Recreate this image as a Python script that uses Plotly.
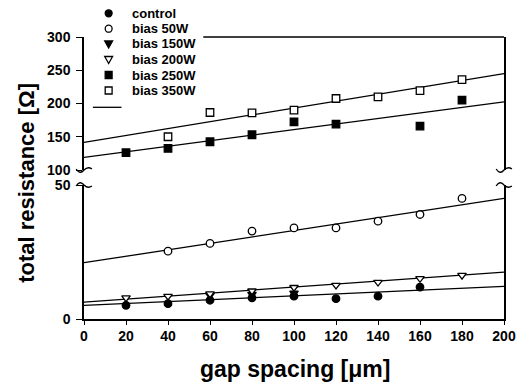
import plotly.graph_objects as go

# ---------------- data ----------------
control_x = [20, 40, 60, 80, 100, 120, 140, 160]
control_y = [5.1, 5.7, 7.0, 7.9, 8.5, 7.6, 8.5, 11.9]

b50_x = [40, 60, 80, 100, 120, 140, 160, 180]
b50_y = [25.3, 28.2, 32.8, 34.0, 34.0, 36.5, 39.0, 45.0]

b150_x = [60, 80, 100]
b150_y = [8.9, 9.2, 9.7]

b200_x = [20, 40, 60, 80, 100, 120, 140, 160, 180]
b200_y = [7.9, 8.5, 9.4, 10.5, 11.8, 12.6, 13.7, 15.1, 16.3]

b250_x = [20, 40, 60, 80, 100, 120, 160, 180]
b250_y = [126, 132.5, 142.5, 153, 172.5, 169, 166, 205]

b350_x = [40, 60, 80, 100, 120, 140, 160, 180]
b350_y = [150, 186.5, 186, 190, 207.5, 210, 219.5, 236]

fit_x = [0, 200]
fit_control = [5.05, 12.2]
fit_200 = [6.3, 17.5]
fit_50 = [21.0, 45.0]
fit_250 = [119, 202.5]
fit_350 = [141.5, 245]

x_ticks = [0, 20, 40, 60, 80, 100, 120, 140, 160, 180, 200]
upper_ticks = [100, 150, 200, 250, 300]
lower_ticks = [0, 50]

# ---------------- layout geometry ----------------
W, H = 528, 387
ML, MR, MT, MB = 84, 18, 37, 68
PW, PH = W - ML - MR, H - MT - MB
FONT = "Liberation Sans"

def paper(px, py):
    return (px - ML) / PW, (H - MB - py) / PH

upper_dom = [paper(0, 170)[1], 1.0]
lower_dom = [0.0, paper(0, 185)[1]]

fig = go.Figure()

def mk(symbol, filled):
    return dict(symbol=symbol, size=7.5,
                color="black" if filled else "white",
                line=dict(color="black", width=1.3))

series = [
    ("control", control_x, control_y, "circle", True, "y"),
    ("bias 50W", b50_x, b50_y, "circle", False, "y"),
    ("bias 150W", b150_x, b150_y, "triangle-down", True, "y"),
    ("bias 200W", b200_x, b200_y, "triangle-down", False, "y"),
    ("bias 250W", b250_x, b250_y, "square", True, "y2"),
    ("bias 350W", b350_x, b350_y, "square", False, "y2"),
]

# fit lines first (under markers)
fits = [(fit_control, "y"), (fit_200, "y"), (fit_50, "y"),
        (fit_250, "y2"), (fit_350, "y2")]
for fy, ya in fits:
    fig.add_trace(go.Scatter(x=fit_x, y=fy, mode="lines", yaxis=ya,
                             xaxis="x" if ya == "y" else "x2",
                             line=dict(color="black", width=1.3),
                             showlegend=False, hoverinfo="skip"))

for name, xs, ys, sym, filled, ya in series:
    fig.add_trace(go.Scatter(x=xs, y=ys, mode="markers", name=name,
                             yaxis=ya, xaxis="x" if ya == "y" else "x2",
                             marker=mk(sym, filled), showlegend=False))

tickfont = dict(family=FONT, size=14, color="black", weight="bold")

fig.update_layout(
    width=W, height=H,
    margin=dict(l=ML, r=MR, t=MT, b=MB),
    paper_bgcolor="white", plot_bgcolor="white",
    font=dict(family=FONT, color="black"),
    showlegend=False,
    xaxis=dict(domain=[0, 1], range=[0, 200], tickvals=x_ticks,
               showline=True, linecolor="black", linewidth=1.5,
               ticks="outside", ticklen=4, tickwidth=1.3, tickcolor="black",
               showgrid=False, zeroline=False, tickfont=tickfont,
               ticklabelstandoff=-1, anchor="y"),
    xaxis2=dict(domain=[0, 1], range=[0, 200], visible=False,
                anchor="y2", matches="x"),
    yaxis=dict(domain=lower_dom, range=[0, 50], tickvals=lower_ticks,
               showline=True, mirror=True, linecolor="black", linewidth=1.5,
               ticks="outside", ticklen=6, tickwidth=1.3, tickcolor="black",
               showgrid=False, zeroline=False, tickfont=tickfont,
               ticklabelstandoff=3, anchor="x"),
    yaxis2=dict(domain=upper_dom, range=[100, 300], tickvals=upper_ticks,
                showline=True, mirror=True, linecolor="black", linewidth=1.5,
                ticks="outside", ticklen=6, tickwidth=1.3, tickcolor="black",
                showgrid=False, zeroline=False, tickfont=tickfont,
                ticklabelstandoff=3, anchor="x2"),
)

# top border of upper panel (legend area left open)
x0p = paper(205, 0)[0]
fig.add_shape(type="line", xref="paper", yref="paper", x0=x0p, x1=1.0,
              y0=1.0, y1=1.0, line=dict(color="black", width=1.3))

# axis break marks
def tilde(cx, cy, up):
    s = -1 if up else 1
    pts = [(cx - 8, cy - s), (cx - 4, cy + 5 * s), (cx, cy),
           (cx + 4, cy - 4 * s), (cx + 8, cy - s)]
    p = [paper(*q) for q in pts]
    return ("M {:.5f},{:.5f} Q {:.5f},{:.5f} {:.5f},{:.5f} "
            "Q {:.5f},{:.5f} {:.5f},{:.5f}").format(
        p[0][0], p[0][1], p[1][0], p[1][1], p[2][0], p[2][1],
        p[3][0], p[3][1], p[4][0], p[4][1])

for cx in (ML, W - MR):
    for cy, up in ((170, False), (185, True)):
        fig.add_shape(type="path", xref="paper", yref="paper",
                      path=tilde(cx, cy, up),
                      line=dict(color="black", width=1.3))

# ---------------- hand-drawn legend ----------------
LEG_MX, LEG_TX = 109, 131
LEG_ROWS = [13.3, 28.7, 44.0, 59.5, 75.0, 90.5]
LEG_LINE_Y, LEG_LINE_X = 107.3, (93, 122)
r = 3.5

def path_of(pts):
    p = [paper(*q) for q in pts]
    return "M " + " L ".join("{:.5f},{:.5f}".format(a, b) for a, b in p) + " Z"

for (name, _, _, sym, filled, _), cy in zip(series, LEG_ROWS):
    fill = "black" if filled else "white"
    ln = dict(color="black", width=1.3)
    if sym == "circle":
        (x0, y0), (x1, y1) = paper(LEG_MX - r, cy + r), paper(LEG_MX + r, cy - r)
        fig.add_shape(type="circle", xref="paper", yref="paper", x0=x0, y0=y0,
                      x1=x1, y1=y1, fillcolor=fill, line=ln)
    elif sym == "square":
        (x0, y0), (x1, y1) = paper(LEG_MX - r, cy + r), paper(LEG_MX + r, cy - r)
        fig.add_shape(type="rect", xref="paper", yref="paper", x0=x0, y0=y0,
                      x1=x1, y1=y1, fillcolor=fill, line=ln)
    else:
        pts = [(LEG_MX - 4, cy - 3), (LEG_MX + 4, cy - 3), (LEG_MX, cy + 4)]
        fig.add_shape(type="path", xref="paper", yref="paper",
                      path=path_of(pts), fillcolor=fill, line=ln)
    tx, ty = paper(LEG_TX, cy)
    fig.add_annotation(text=name, xref="paper", yref="paper", x=tx, y=ty,
                       xanchor="left", yanchor="middle", showarrow=False,
                       font=dict(family=FONT, size=13, color="black",
                                 weight="bold"))

(lx0, ly), (lx1, _) = paper(LEG_LINE_X[0], LEG_LINE_Y), paper(LEG_LINE_X[1], LEG_LINE_Y)
fig.add_shape(type="line", xref="paper", yref="paper", x0=lx0, x1=lx1,
              y0=ly, y1=ly, line=dict(color="black", width=1.3))

# axis titles
tx, ty = paper(298, 369)
fig.add_annotation(text="gap spacing [μm]", xref="paper", yref="paper",
                   x=tx, y=ty, xanchor="center", yanchor="middle",
                   showarrow=False,
                   font=dict(family=FONT, size=23, color="black",
                             weight="bold"))
yx, yy = paper(25, 183)
fig.add_annotation(text="total resistance [Ω]", xref="paper", yref="paper",
                   x=yx, y=yy, xanchor="center", yanchor="middle",
                   showarrow=False, textangle=-90,
                   font=dict(family=FONT, size=22, color="black",
                             weight="bold"))

fig.write_html("out.html",
               config={"displayModeBar": False},
               post_script="document.body.style.margin='0';"
                           "document.body.style.padding='0';")
